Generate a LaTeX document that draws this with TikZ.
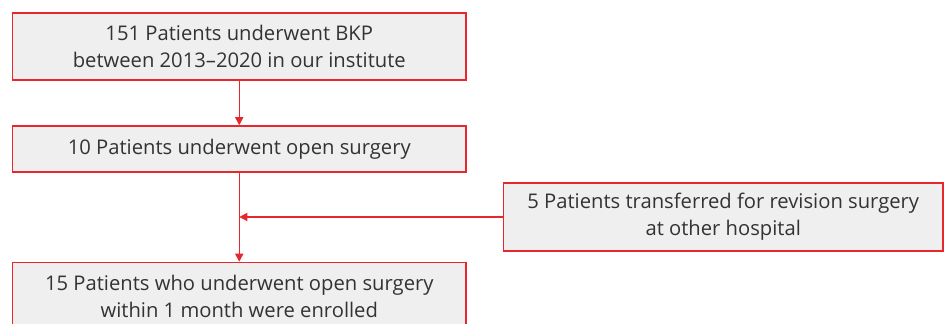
\documentclass[tikz,border=0pt]{standalone}
\usepackage{fontspec}
\setmainfont{Open Sans}
\usetikzlibrary{arrows.meta}
\definecolor{boxred}{HTML}{E8262E}
\definecolor{boxgray}{HTML}{EFEFEF}
\definecolor{txtgray}{HTML}{333333}
\tikzset{
  flowbox/.style={draw=boxred, line width=0.85pt, fill=boxgray, text=txtgray,
    align=center, inner sep=0pt, font=\fontsize{11.5}{15.3}\selectfont},
  flowarrow/.style={draw=boxred, line width=0.85pt, -{Triangle[length=4.6pt,width=4.6pt]}}
}
\begin{document}
\begin{tikzpicture}[x=0.02cm, y=-0.02cm]
    \useasboundingbox (0,0) rectangle (944,324);
    %\fill[white] (0,0) rectangle (944,324);
    \node[flowbox, minimum width=9.07cm, minimum height=1.34cm] (enroll) at (239.25,46.5)
        {151 Patients underwent BKP\\between 2013--2020 in our institute};
    \node[flowbox, minimum width=9.07cm, minimum height=0.92cm] (open) at (239.25,149)
        {10 Patients underwent open surgery};
    \node[flowbox, minimum width=8.79cm, minimum height=1.36cm] (transfer) at (723.25,217)
        {5 Patients transferred for revision surgery\\at other hospital};
    \node[flowbox, minimum width=9.07cm, minimum height=1.34cm] (final) at (239.25,296)
        {15 Patients who underwent open surgery\\within 1 month were enrolled};
    \coordinate (join) at (enroll.south |- transfer.west);
    \draw[flowarrow] (enroll) -- (open);
    \draw[flowarrow] (open) -- (final);
    \draw[flowarrow] (transfer.west) -- (join);
\end{tikzpicture}
\end{document}
